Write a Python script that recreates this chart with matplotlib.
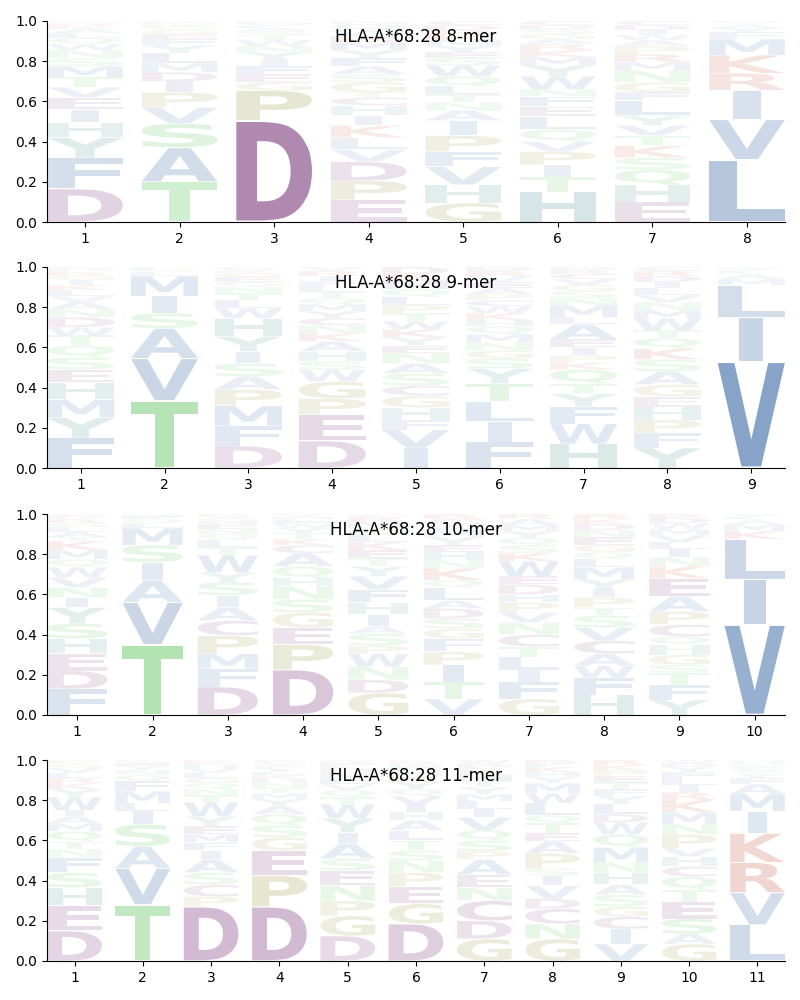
import matplotlib
matplotlib.use("Agg")
import matplotlib.pyplot as plt
from matplotlib.textpath import TextPath
from matplotlib.patches import PathPatch
from matplotlib.font_manager import FontProperties
from matplotlib.transforms import Affine2D

allele = "HLA-A*68:28"

# columns listed bottom -> top, (residue, probability)
mer8 = [
    [("D", .165), ("F", .155), ("Y", .10), ("H", .075), ("I", .065), ("E", .06), ("V", .05), ("T", .05),
     ("M", .055), ("S", .04), ("N", .04), ("W", .03), ("Q", .03), ("L", .025), ("A", .02), ("K", .015),
     ("R", .01), ("G", .01), ("P", .005)],
    [("T", .20), ("A", .17), ("S", .12), ("V", .08), ("P", .075), ("I", .055), ("D", .045), ("M", .045),
     ("L", .05), ("Y", .04), ("F", .03), ("E", .025), ("G", .02), ("Q", .015), ("K", .01), ("N", .01),
     ("R", .005), ("C", .005)],
    [("D", .505), ("P", .15), ("G", .04), ("E", .04), ("F", .04), ("I", .035), ("Y", .035), ("N", .03),
     ("W", .03), ("T", .025), ("S", .02), ("A", .015), ("L", .01), ("V", .01), ("M", .005), ("K", .005),
     ("Q", .005)],
    [("E", .11), ("P", .095), ("D", .095), ("V", .06), ("L", .06), ("K", .06), ("I", .05), ("H", .05),
     ("C", .04), ("T", .025), ("G", .05), ("S", .04), ("A", .04), ("F", .04), ("Y", .04), ("M", .04),
     ("R", .03), ("W", .03), ("Q", .03), ("N", .015)],
    [("G", .095), ("H", .09), ("V", .09), ("F", .075), ("P", .08), ("I", .075), ("A", .05), ("N", .04),
     ("T", .04), ("L", .04), ("Q", .05), ("W", .055), ("S", .035), ("E", .03), ("Y", .03), ("M", .03),
     ("K", .025), ("R", .025), ("D", .025), ("C", .02)],
    [("H", .15), ("T", .075), ("I", .06), ("P", .065), ("V", .05), ("Q", .06), ("L", .065), ("E", .05),
     ("F", .05), ("N", .035), ("W", .065), ("Y", .055), ("M", .04), ("K", .035), ("R", .03), ("A", .025),
     ("G", .025), ("S", .025), ("D", .02), ("C", .02)],
    [("E", .10), ("H", .085), ("Q", .075), ("S", .06), ("K", .06), ("T", .05), ("V", .05), ("Y", .05),
     ("L", .075), ("F", .04), ("G", .05), ("N", .06), ("M", .04), ("R", .04), ("P", .04), ("A", .03),
     ("W", .025), ("I", .025), ("D", .025), ("C", .02)],
    [("L", .31), ("V", .20), ("I", .145), ("R", .085), ("K", .09), ("M", .08), ("F", .035), ("Y", .02),
     ("A", .015), ("T", .01), ("W", .01)],
]

mer9 = [
    [("F", .15), ("Y", .10), ("M", .09), ("H", .085), ("E", .065), ("S", .06), ("Q", .06), ("T", .05),
     ("W", .04), ("D", .05), ("N", .04), ("A", .035), ("V", .03), ("L", .03), ("K", .025), ("I", .025),
     ("G", .02), ("R", .02), ("P", .015), ("C", .01)],
    [("T", .335), ("V", .21), ("A", .15), ("S", .075), ("I", .085), ("M", .10), ("L", .02), ("Q", .01),
     ("F", .01), ("N", .005)],
    [("D", .11), ("F", .10), ("M", .10), ("P", .08), ("A", .065), ("S", .065), ("I", .06), ("Y", .075),
     ("H", .09), ("W", .05), ("L", .04), ("T", .035), ("N", .03), ("Q", .025), ("E", .025), ("G", .02),
     ("K", .01), ("V", .01), ("R", .005), ("C", .005)],
    [("D", .135), ("E", .13), ("P", .08), ("G", .085), ("W", .06), ("S", .04), ("H", .05), ("A", .05),
     ("K", .04), ("N", .04), ("C", .035), ("Y", .035), ("M", .035), ("Q", .03), ("T", .03), ("L", .03),
     ("F", .025), ("I", .025), ("R", .025), ("V", .02)],
    [("I", .10), ("V", .09), ("F", .05), ("H", .06), ("G", .06), ("C", .05), ("S", .06), ("A", .05),
     ("N", .05), ("E", .04), ("Y", .04), ("K", .04), ("W", .04), ("T", .04), ("P", .04), ("L", .04),
     ("Q", .04), ("M", .04), ("R", .035), ("D", .035)],
    [("F", .13), ("I", .10), ("L", .10), ("T", .09), ("Y", .075), ("S", .05), ("G", .04), ("N", .04),
     ("M", .04), ("Q", .04), ("H", .03), ("K", .035), ("W", .035), ("C", .03), ("P", .03), ("A", .03),
     ("E", .03), ("V", .03), ("R", .025), ("D", .02)],
    [("H", .12), ("W", .10), ("F", .085), ("Y", .065), ("T", .05), ("Q", .07), ("K", .035), ("P", .035),
     ("I", .04), ("E", .04), ("A", .075), ("L", .035), ("M", .06), ("N", .035), ("S", .035), ("G", .03),
     ("V", .03), ("C", .025), ("R", .02), ("D", .015)],
    [("Y", .10), ("F", .075), ("P", .065), ("H", .065), ("E", .05), ("G", .06), ("A", .065), ("S", .06),
     ("K", .055), ("Q", .05), ("T", .04), ("W", .06), ("M", .04), ("N", .04), ("V", .035), ("L", .035),
     ("I", .03), ("D", .03), ("R", .025), ("C", .02)],
    [("V", .53), ("I", .22), ("L", .16), ("M", .03), ("A", .02), ("T", .01), ("F", .01), ("Y", .01),
     ("K", .005), ("S", .005)],
]

mer10 = [
    [("F", .13), ("D", .09), ("E", .085), ("H", .075), ("S", .075), ("Y", .08), ("I", .05), ("N", .05),
     ("V", .05), ("W", .05), ("Q", .04), ("M", .045), ("K", .045), ("T", .02), ("A", .025), ("L", .025),
     ("G", .02), ("R", .02), ("P", .015), ("C", .01)],
    [("T", .35), ("V", .21), ("A", .11), ("I", .09), ("S", .085), ("M", .085), ("L", .025), ("Q", .02),
     ("F", .015), ("N", .01)],
    [("D", .14), ("F", .09), ("M", .075), ("P", .09), ("C", .075), ("A", .065), ("I", .06), ("S", .065),
     ("Y", .05), ("W", .085), ("T", .04), ("L", .035), ("Q", .03), ("N", .025), ("E", .025), ("H", .015),
     ("G", .015), ("V", .01), ("K", .005), ("R", .005)],
    [("D", .225), ("P", .125), ("E", .085), ("G", .075), ("S", .065), ("N", .065), ("H", .04), ("Q", .06),
     ("A", .065), ("C", .04), ("K", .03), ("T", .03), ("Y", .025), ("W", .02), ("F", .015), ("L", .01),
     ("M", .01), ("I", .005), ("V", .005), ("R", .005)],
    [("G", .11), ("D", .065), ("N", .065), ("W", .065), ("P", .04), ("S", .06), ("A", .035), ("I", .06),
     ("H", .06), ("F", .065), ("V", .065), ("Y", .05), ("T", .04), ("E", .04), ("K", .04), ("L", .035),
     ("Q", .035), ("M", .03), ("R", .025), ("C", .015)],
    [("V", .08), ("T", .085), ("I", .085), ("P", .065), ("F", .065), ("G", .05), ("S", .05), ("D", .05),
     ("A", .04), ("L", .065), ("Q", .035), ("K", .06), ("N", .04), ("H", .04), ("E", .035), ("Y", .04),
     ("M", .035), ("W", .03), ("C", .025), ("R", .025)],
    [("G", .08), ("F", .085), ("I", .06), ("L", .065), ("T", .05), ("C", .06), ("N", .06), ("V", .05),
     ("P", .05), ("H", .04), ("D", .05), ("E", .04), ("W", .075), ("K", .04), ("S", .04), ("Q", .035),
     ("Y", .035), ("M", .03), ("A", .03), ("R", .025)],
    [("H", .10), ("F", .085), ("W", .06), ("A", .06), ("C", .065), ("V", .065), ("S", .06), ("T", .04),
     ("P", .05), ("I", .04), ("Y", .05), ("M", .06), ("L", .04), ("Q", .035), ("G", .035), ("E", .04),
     ("N", .035), ("D", .03), ("K", .025), ("R", .025)],
    [("Y", .075), ("F", .075), ("T", .06), ("S", .04), ("G", .05), ("H", .05), ("Q", .04), ("C", .06),
     ("P", .065), ("A", .075), ("E", .09), ("K", .06), ("N", .045), ("I", .04), ("L", .035), ("V", .035),
     ("M", .03), ("W", .03), ("D", .025), ("R", .02)],
    [("V", .45), ("I", .225), ("L", .20), ("K", .04), ("M", .035), ("A", .015), ("T", .01), ("F", .01),
     ("Y", .01), ("S", .005)],
]

mer11 = [
    [("D", .15), ("E", .125), ("H", .09), ("S", .075), ("F", .075), ("N", .04), ("T", .04), ("Q", .05),
     ("M", .04), ("A", .035), ("I", .03), ("W", .065), ("Y", .04), ("K", .03), ("R", .025), ("L", .025),
     ("V", .025), ("G", .02), ("P", .015), ("C", .005)],
    [("T", .28), ("V", .18), ("A", .11), ("S", .11), ("I", .065), ("L", .04), ("M", .06), ("F", .05),
     ("Q", .03), ("N", .025), ("Y", .02), ("E", .015), ("G", .01), ("K", .005)],
    [("D", .27), ("P", .05), ("C", .06), ("S", .06), ("A", .065), ("I", .045), ("F", .04), ("M", .04),
     ("E", .04), ("Y", .05), ("W", .07), ("T", .035), ("N", .03), ("Q", .03), ("G", .025), ("L", .025),
     ("V", .02), ("H", .02), ("K", .015), ("R", .01)],
    [("D", .27), ("P", .155), ("E", .125), ("G", .065), ("S", .06), ("Q", .055), ("A", .04), ("Y", .035),
     ("M", .03), ("T", .025), ("N", .025), ("H", .02), ("K", .02), ("L", .015), ("I", .015), ("F", .01),
     ("W", .01), ("V", .01), ("C", .01), ("R", .005)],
    [("D", .125), ("G", .10), ("P", .075), ("N", .075), ("E", .075), ("S", .06), ("A", .075), ("I", .055),
     ("Y", .07), ("W", .07), ("T", .035), ("Q", .035), ("V", .03), ("L", .03), ("M", .025), ("H", .02),
     ("K", .015), ("F", .015), ("R", .01), ("C", .005)],
    [("D", .185), ("G", .10), ("E", .085), ("P", .07), ("N", .06), ("S", .05), ("T", .05), ("L", .05),
     ("A", .05), ("H", .04), ("I", .04), ("V", .04), ("Q", .035), ("Y", .035), ("K", .03), ("M", .025),
     ("F", .02), ("W", .015), ("R", .01), ("C", .01)],
    [("G", .11), ("D", .09), ("C", .10), ("N", .065), ("E", .065), ("A", .075), ("P", .04), ("S", .055),
     ("Q", .05), ("V", .065), ("I", .04), ("L", .04), ("M", .035), ("Y", .035), ("T", .03), ("H", .03),
     ("K", .025), ("F", .02), ("R", .015), ("W", .015)],
    [("G", .11), ("N", .075), ("C", .075), ("D", .05), ("V", .065), ("I", .05), ("S", .035), ("P", .075),
     ("A", .06), ("E", .04), ("T", .05), ("Q", .04), ("L", .06), ("W", .05), ("M", .05), ("Y", .03),
     ("H", .025), ("K", .025), ("F", .02), ("R", .015)],
    [("V", .085), ("I", .075), ("C", .06), ("G", .05), ("S", .06), ("A", .05), ("H", .06), ("N", .05),
     ("M", .075), ("Q", .065), ("W", .06), ("D", .04), ("L", .05), ("Y", .04), ("F", .035), ("T", .035),
     ("E", .03), ("P", .03), ("K", .025), ("R", .025)],
    [("G", .085), ("A", .05), ("S", .075), ("E", .085), ("T", .06), ("Q", .065), ("C", .05), ("H", .05),
     ("V", .04), ("P", .07), ("N", .05), ("M", .06), ("K", .06), ("R", .04), ("I", .035), ("L", .035),
     ("F", .03), ("Y", .025), ("D", .02), ("W", .015)],
    [("L", .18), ("V", .16), ("R", .15), ("K", .145), ("I", .11), ("M", .085), ("A", .05), ("F", .03),
     ("Y", .02), ("T", .015), ("S", .015), ("W", .01), ("Q", .01), ("H", .01), ("N", .005), ("G", .005)],
]

logos = [(8, mer8), (9, mer9), (10, mer10), (11, mer11)]

blue = "#7394bf"
green = "#7ed07e"
purple = "#9f6f9f"
red = "#cd7364"
teal = "#70a6a6"
beige = "#aaaa64"
colors = {}
for aa in "AVLIMFW":
    colors[aa] = blue
for aa in "STNQ":
    colors[aa] = green
for aa in "DEC":
    colors[aa] = purple
for aa in "KR":
    colors[aa] = red
for aa in "HY":
    colors[aa] = teal
for aa in "PG":
    colors[aa] = beige

FONT = FontProperties(family="DejaVu Sans", weight="bold")


def draw_letter(ax, letter, x, y, w, h, color, alpha):
    if letter == "I":
        w = w * 0.36  # narrow glyph keeps its own width
    tp = TextPath((0, 0), letter, size=1, prop=FONT)
    bb = tp.get_extents()
    hh = h * 0.97
    t = Affine2D().translate(-bb.x0, -bb.y0).scale(w / bb.width, hh / bb.height)
    t = t.translate(x - w / 2, y + h * 0.015)
    ax.add_patch(PathPatch(t.transform_path(tp), facecolor=color, edgecolor="none", alpha=alpha))


fig = plt.figure(figsize=(8, 10), dpi=100)
bottoms = [0.778, 0.532, 0.285, 0.039]

for (n, cols), b in zip(logos, bottoms):
    ax = fig.add_axes([0.059, b, 0.922, 0.201])
    for i, col in enumerate(cols):
        y = 0
        for aa, p in col:
            draw_letter(ax, aa, i + 1, y, 0.8, p, colors[aa], min(1, 0.06 + 1.5 * p))
            y += p
    ax.set_xlim(0.6, n + 0.4)
    ax.set_ylim(0, 1)
    ax.set_xticks(range(1, n + 1))
    ax.spines["top"].set_visible(False)
    ax.spines["right"].set_visible(False)
    ax.text(0.5, 0.92, f"{allele} {n}-mer", transform=ax.transAxes,
            ha="center", va="center", fontsize=12)

fig.savefig("out.png", dpi=100)
